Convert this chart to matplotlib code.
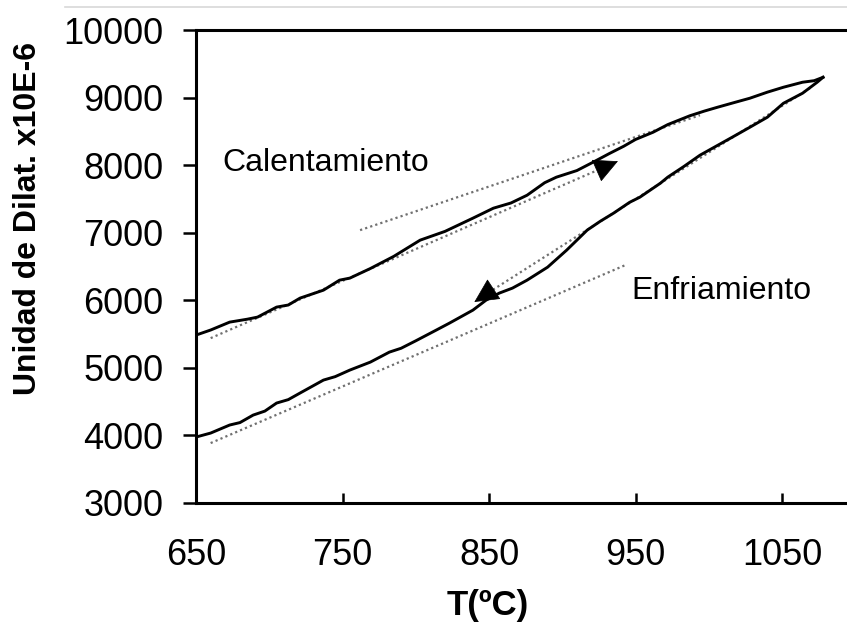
import matplotlib
matplotlib.use("Agg")
import matplotlib.pyplot as plt
from matplotlib.lines import Line2D

plt.rcParams['font.family'] = ['Liberation Sans', 'DejaVu Sans']

# Dilatometry curve: heating branch (T in ºC, dilatation units x10E-6)
heat_T = [650, 660, 673, 685, 692, 705, 713, 721, 737, 748, 755, 769, 785, 803,
          820, 839, 853, 865, 876, 888, 896, 910, 921, 932, 942, 950, 962, 972,
          987, 997, 1006, 1018, 1028, 1040, 1051, 1064, 1072, 1078]
heat_v = [5485, 5560, 5677, 5720, 5751, 5899, 5930, 6032, 6150, 6298, 6328, 6470,
          6650, 6890, 7020, 7215, 7363, 7440, 7555, 7740, 7822, 7920, 8043, 8170,
          8280, 8380, 8487, 8600, 8730, 8800, 8857, 8930, 8990, 9080, 9153, 9227,
          9250, 9300]

# Cooling branch
cool_T = [650, 660, 673, 680, 689, 697, 705, 713, 721, 737, 745, 755, 769, 782,
          790, 800, 814, 823, 839, 848, 857, 866, 876, 890, 903, 917, 926, 935,
          946, 953, 967, 972, 983, 994, 1005, 1016, 1028, 1040, 1051, 1064, 1074,
          1078]
cool_v = [3976, 4035, 4154, 4190, 4301, 4360, 4479, 4530, 4627, 4819, 4870, 4967,
          5085, 5233, 5290, 5400, 5559, 5662, 5854, 6002, 6106, 6180, 6298, 6490,
          6742, 7038, 7170, 7289, 7450, 7526, 7733, 7822, 7980, 8147, 8280, 8413,
          8560, 8709, 8916, 9064, 9227, 9300]

# Tangent (extrapolation) lines
heat_hi_T, heat_hi_v = [762, 994], [7038, 8739]
heat_lo_T, heat_lo_v = [660, 924], [5440, 7925]
cool_hi_T, cool_hi_v = [1069, 853], [9138, 6160]
cool_lo_T, cool_lo_v = [660, 943], [3887, 6520]

# Arrow tips showing the direction of each branch
heat_tip = (938, 8058)
cool_tip = (840, 5975)

x_ticks = [650, 750, 850, 950, 1050]
y_ticks = [3000, 4000, 5000, 6000, 7000, 8000, 9000, 10000]

W, H = 847, 623
fig = plt.figure(figsize=(W / 100, H / 100), dpi=100)
ax = fig.add_axes([196 / W, 1 - 503 / H, 1 - 196 / W, (503 - 30) / H])

ax.set_xlim(650, 650 + 651 / 1.465)
ax.set_ylim(3000, 10000)

dot_kw = dict(color='#707070', lw=1.6, linestyle=(0, (1, 1.4)))
for tx, ty in [(heat_hi_T, heat_hi_v), (heat_lo_T, heat_lo_v),
               (cool_hi_T, cool_hi_v), (cool_lo_T, cool_lo_v)]:
    ax.plot(tx, ty, **dot_kw)

ax.plot(heat_T, heat_v, color='black', lw=2.1, solid_joinstyle='round')
ax.plot(cool_T, cool_v, color='black', lw=2.1, solid_joinstyle='round')

arrow_kw = dict(arrowstyle='-|>,head_length=0.4,head_width=0.2', color='black',
                mutation_scale=40, shrinkA=0, shrinkB=0, lw=0.5)
ax.annotate('', xy=heat_tip, xytext=(heat_lo_T[1], heat_lo_v[1]), arrowprops=arrow_kw)
ax.annotate('', xy=cool_tip, xytext=(cool_hi_T[1], cool_hi_v[1]), arrowprops=arrow_kw)

ax.text(668, 7910, 'Calentamiento', fontsize=23, ha='left', va='baseline')
ax.text(947, 6020, 'Enfriamiento', fontsize=23, ha='left', va='baseline')

ax.set_xticks(x_ticks)
ax.set_yticks(y_ticks)
ax.tick_params(axis='x', direction='in', length=7, width=1.8, labelsize=26, pad=25)
ax.tick_params(axis='y', direction='out', length=9.5, width=1.8, labelsize=26, pad=14)

for side in ['left', 'bottom', 'top']:
    ax.spines[side].set_linewidth(2.2)
ax.spines['right'].set_visible(False)

fig.text(28 / W, 1 - 218 / H, 'Unidad de Dilat. x10E-6', rotation=90, fontsize=23,
         fontweight='bold', ha='center', va='center')
fig.text(488 / W, 1 - 606 / H, 'T(ºC)', fontsize=25, fontweight='bold',
         ha='center', va='center')

fig.add_artist(Line2D([65 / W, 1], [1 - 7 / H, 1 - 7 / H], color='#d8d8d8', lw=1.2))

fig.savefig('out.png', dpi=100)
